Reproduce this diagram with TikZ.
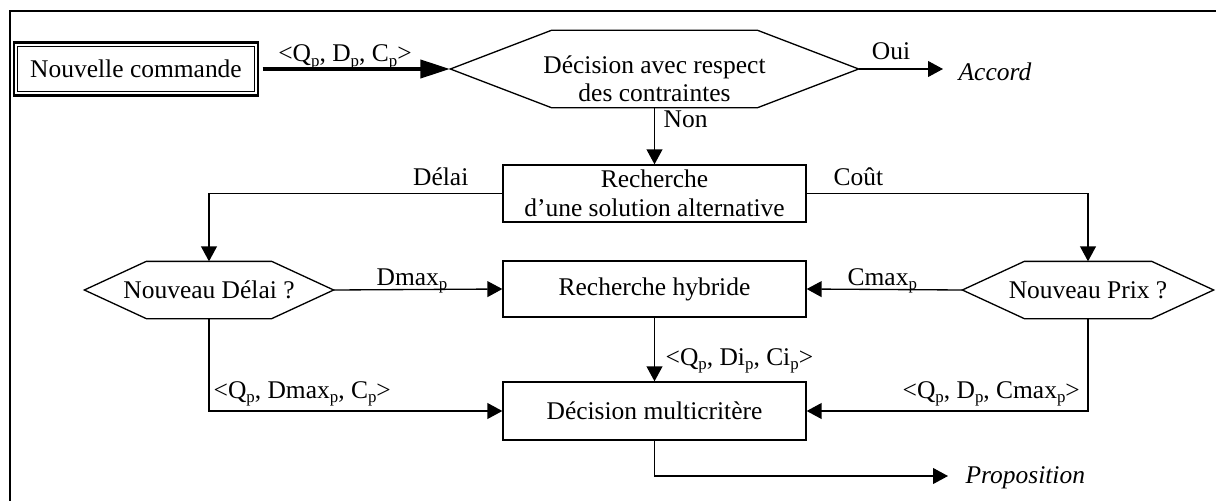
\documentclass[tikz,border=0pt]{standalone}
\usepackage{fontspec}
\setmainfont{Liberation Serif}
\usetikzlibrary{arrows.meta,calc}
\newcommand\drawhexa[2]{\draw (#1.west) -- ($(#1.north west)+(#2,0)$) -- ($(#1.north east)+(-#2,0)$) -- (#1.east) -- ($(#1.south east)+(-#2,0)$) -- ($(#1.south west)+(#2,0)$) -- cycle;}
\newcommand\subp{\raisebox{-2.6pt}{\fontsize{9.6}{10}\selectfont p}}
\begin{document}
\begin{tikzpicture}[x=0.02cm,y=-0.02cm,
  font=\fontsize{14.5}{16.5}\selectfont,
  line width=0.75pt,
  box/.style={draw,inner sep=0pt,align=center,minimum width={303*0.02cm}},
  hexnode/.style={inner sep=0pt,align=center},
  arr/.style={-{Triangle[length=8.5pt,width=9pt]}},
  lbl/.style={inner sep=0pt}]
\clip (0,0) rectangle (1216,500);
% frame
\draw[line width=0.8pt] (10,11) rectangle (1240,520);

% nodes
\node[draw,line width=1.2pt,minimum width={244*0.02cm},minimum height={53*0.02cm},inner sep=0pt] (nc) at (136,69) {Nouvelle commande};
\draw[line width=0.6pt] ($(nc.north west)+(5,5)$) rectangle ($(nc.south east)+(-5,-5)$);

\node[hexnode,minimum width={407*0.02cm},minimum height={76*0.02cm}] (dec) at (654.5,69) {};
\drawhexa{dec}{101}
\node[lbl,align=center,anchor=base] (dectext) at (654.5,102) {Décision avec respect\\des contraintes};

\node[box,minimum height={57*0.02cm}] (rech) at (654.5,193.5) {Recherche\\d’une solution alternative};

\node[hexnode,minimum width={248*0.02cm},minimum height={56*0.02cm}] (nd) at (209,290) {Nouveau Délai ?};
\drawhexa{nd}{62}
\node[hexnode,minimum width={250*0.02cm},minimum height={56*0.02cm}] (np) at (1088,290) {Nouveau Prix ?};
\drawhexa{np}{62}

\node[box,minimum height={56*0.02cm}] (hyb) at (654.5,289) {Recherche hybride};
\node[box,minimum height={58*0.02cm}] (multi) at (654.5,411) {Décision multicritère};

\node[lbl,anchor=base west,font=\fontsize{14.5}{16.5}\selectfont\itshape] (accord) at (958,81) {Accord};
\node[lbl,anchor=base west,font=\fontsize{14.5}{16.5}\selectfont\itshape] (prop) at (965,483) {Proposition};
\coordinate (aend) at (943,69);
\coordinate (pend) at (948,476);

% connectors
\draw[line width=2.8pt,-{Triangle[length=17pt,width=10pt]},shorten <=2pt] (nc.east) -- (dec.west);
\draw[arr] (dec.east) -- (aend);
\draw[arr] (dec.south) -- (rech.north);
\draw[arr] (rech.west) -| (nd.north);
\draw[arr] (rech.east) -| (np.north);
\draw[arr] (nd.east) -- (hyb.west);
\draw[arr] (np.west) -- (hyb.east);
\draw[arr] (hyb.south) -- (multi.north);
\draw[arr] (nd.south) |- (multi.west);
\draw[arr] (np.south) |- (multi.east);
\draw[arr] (multi.south) |- (pend);

% labels
\node[lbl,anchor=base] (l1) at (345,62) {<Q\subp, D\subp, C\subp>};
\node[lbl,anchor=base] (loui) at (891,60) {Oui};
\node[lbl,anchor=base west] (lnon) at (663,128) {Non};
\node[lbl,anchor=base east] (ldel) at (469,185) {Délai};
\node[lbl,anchor=base west] (lcout) at (833,185) {Coût};
\node[lbl,anchor=base west] (ldmax) at (376,285) {Dmax\subp};
\node[lbl,anchor=base west] (lcmax) at (847,285) {Cmax\subp};
\node[lbl,anchor=base west] (ldi) at (665,365) {<Q\subp, Di\subp, Ci\subp>};
\node[lbl,anchor=base west] (lleft) at (213,398) {<Q\subp, Dmax\subp, C\subp>};
\node[lbl,anchor=base west] (lright) at (902,398) {<Q\subp, D\subp, Cmax\subp>};
\end{tikzpicture}
\end{document}
